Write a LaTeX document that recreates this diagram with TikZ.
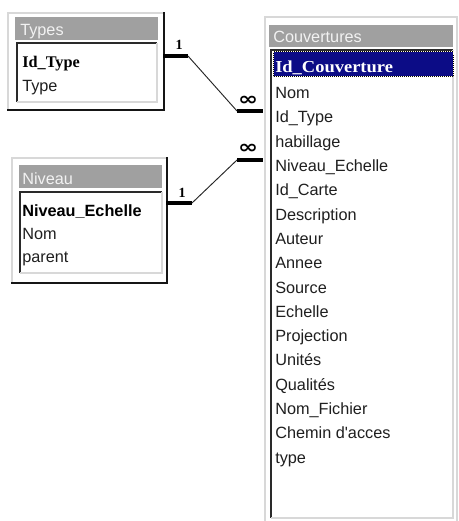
\documentclass[tikz,border=0pt]{standalone}
\usepackage{fontspec}
\setmainfont{Liberation Sans}
\newfontfamily\serifbold{Liberation Serif}
\newfontfamily\dejasans{DejaVu Sans}
\definecolor{titlegray}{HTML}{A0A0A0}
\definecolor{frmlight}{HTML}{D8D8D8}
\definecolor{frmdark}{HTML}{151515}
\definecolor{listdark}{HTML}{2A2A2A}
\definecolor{selnavy}{HTML}{0C0C86}
\definecolor{ttltext}{HTML}{F2F2F2}
\begin{document}
\begin{tikzpicture}[x=0.75pt,y=-0.75pt,
  fieldrow/.style={anchor=base west, inner sep=0pt, font=\fontsize{12.2}{14}\selectfont, text=black!88},
  keyrow/.style={anchor=base west, inner sep=0pt, text=black},
  ttlrow/.style={anchor=base west, inner sep=0pt, font=\fontsize{12.2}{14}\selectfont, text=ttltext},
  cardone/.style={anchor=base, inner sep=0pt, font=\serifbold\bfseries\fontsize{10.5}{11}\selectfont},
  cardmany/.style={inner sep=0pt, font=\dejasans\bfseries\fontsize{12}{12}\selectfont},
  framelight/.style={draw=frmlight, line width=0.9pt},
  framedark/.style={draw=frmdark, line width=2.2pt},
  listtop/.style={draw=listdark, line width=1.5pt},
  listbot/.style={draw=frmlight, line width=0.9pt},
  relthick/.style={draw=black, line width=2.5pt},
  relthin/.style={draw=black!85, line width=0.7pt}
]
\useasboundingbox (0,0) rectangle (459,521);
\fill[white] (0,0) rectangle (459,521);

% ---------- Types ----------
\path[framelight] (8,110) -- (8,13) -- (164,13);
\path[framedark] (164,12) -- (164,110) -- (7,110);
\fill[titlegray] (15,17) rectangle (158,40);
\path[listtop] (17,102) -- (17,43) -- (157,43);
\path[listbot] (157,43) -- (157,102) -- (17,102);
\node[ttlrow] (typesT) at (20,35) {Types};
\node[keyrow, font=\serifbold\bfseries\fontsize{12.2}{14}\selectfont] (types1) at (22,67) {Id\_Type};
\node[fieldrow] (types2) at (22,91.5) {Type};

% ---------- Niveau ----------
\path[framelight] (12,283) -- (12,158) -- (167,158);
\path[framedark] (167,157) -- (167,283) -- (11,283);
\fill[titlegray] (19,165) rectangle (162,188);
\path[listtop] (20,273) -- (20,192) -- (162,192);
\path[listbot] (162,192) -- (162,273) -- (20,273);
\node[ttlrow] (nivT) at (22,184) {Niveau};
\node[keyrow, font=\bfseries\fontsize{12.2}{14}\selectfont] (niv1) at (22,216) {Niveau\_Echelle};
\node[fieldrow] (niv2) at (22,239) {Nom};
\node[fieldrow] (niv3) at (22,262) {parent};

% ---------- Couvertures ----------
\path[framelight] (265,521) -- (265,17) -- (458,17);
\path[framelight] (457,17) -- (457,521);
\fill[titlegray] (269,25) rectangle (453,47);
\path[listtop] (271,518) -- (271,50) -- (453,50);
\path[listbot] (453,50) -- (453,518) -- (271,518);
\node[ttlrow] (couvT) at (273,42) {Couvertures};
\fill[selnavy] (273,51.5) rectangle (453,76);
\draw[black, line width=0.7pt] (273,51.5) rectangle (453,76);
\draw[white!90!yellow, line width=0.7pt, dash pattern=on 0.75pt off 0.75pt] (273,51.5) rectangle (453,76);
\node[keyrow, font=\serifbold\bfseries\fontsize{12.6}{14}\selectfont, text=white] (couv0) at (275,72.5) {\scalebox{1.1}[1]{Id\_Couverture}};
\foreach \t [count=\i from 1] in {Nom, Id\_Type, habillage, Niveau\_Echelle, Id\_Carte, Description, Auteur, Annee, Source, Echelle, Projection, Unités, Qualités, Nom\_Fichier, Chemin d\textquotesingle{}acces, type}
  \node[fieldrow] (couv\i) at (275,{74.3+24.3*\i}) {\t};

% ---------- relations ----------
\coordinate (typesR) at (163,56);
\coordinate (ta) at (188,56);
\coordinate (tb) at (237,111);
\coordinate (couvA) at (263,111);
\path[relthick] (typesR) -- (ta);
\path[relthin] (ta) -- (tb);
\path[relthick] (tb) -- (couvA);
\node[cardone] (one1) at (179,49.5) {1};
\node[cardmany] (many1) at (248,101) {\scalebox{1.5}[1.15]{∞}};

\coordinate (nivR) at (166,203);
\coordinate (na) at (192,203);
\coordinate (nb) at (237,160);
\coordinate (couvB) at (263,160);
\path[relthick] (nivR) -- (na);
\path[relthin] (na) -- (nb);
\path[relthick] (nb) -- (couvB);
\node[cardone] (one2) at (182,197.5) {1};
\node[cardmany] (many2) at (248,149) {\scalebox{1.5}[1.15]{∞}};
\end{tikzpicture}
\end{document}
